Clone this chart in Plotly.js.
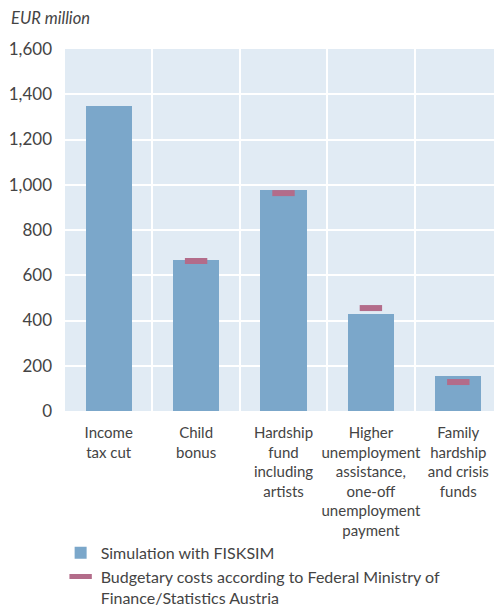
<!DOCTYPE html>
<html><head><meta charset="utf-8">
<script src="https://cdn.plot.ly/plotly-3.0.1.min.js"></script>
<style>html,body{margin:0;padding:0;overflow:hidden;background:#fff}</style>
</head><body><div id="chart"></div>
<script>
const categories = ["Income<br>tax cut", "Child<br>bonus", "Hardship<br>fund<br>including<br>artists", "Higher<br>unemployment<br>assistance,<br>one-off<br>unemployment<br>payment", "Family<br>hardship<br>and crisis<br>funds"];
const fisksim = [1350, 668, 976, 430, 155];
const budget = [null, 663, 963, 455, 128];
const yTicks = [0, 200, 400, 600, 800, 1000, 1200, 1400, 1600];

const idx = categories.map((c, i) => i);
const font = {family: "Lato, 'Open Sans', sans-serif", color: "#444"};

const data = [
  {type: "bar", x: idx, y: fisksim, name: "Simulation with FISKSIM", width: 0.53,
   marker: {color: "#7ba7ca"}, hoverinfo: "skip"},
  {type: "scatter", mode: "markers", x: idx, y: budget,
   name: "Budgetary costs according to Federal Ministry of<br>Finance/Statistics Austria",
   marker: {symbol: "line-ew", size: 16, line: {width: 6, color: "#b36c8a"}, color: "#b36c8a"}, hoverinfo: "skip"},
  {type: "scatter", x: [0], y: [0], xaxis: "x2", showlegend: false, hoverinfo: "skip", mode: "none"}
];

const layout = {
  width: 502, height: 609,
  margin: {l: 65, r: 0, t: 49, b: 198, autoexpand: false},
  paper_bgcolor: "#fff", plot_bgcolor: "#e1ebf4",
  font: font,
  bargap: 0,
  xaxis: {range: [-0.5, 4.5], tickvals: idx, ticktext: categories, showgrid: false, zeroline: false, automargin: false,
          ticks: "", tickfont: {size: 15, family: font.family, color: "#444"}, fixedrange: true, ticklabelstandoff: 11},
  xaxis2: {overlaying: "x", range: [-0.5, 4.5], tickvals: [0.5, 1.5, 2.5, 3.5], showgrid: true, gridcolor: "#fff", gridwidth: 2,
           showticklabels: false, ticks: "", zeroline: false},
  yaxis: {range: [0, 1600], tickvals: yTicks, tickformat: ",d", gridcolor: "#fff", gridwidth: 2, zeroline: false, automargin: false,
          ticks: "", tickfont: {size: 17, family: font.family, color: "#444"}, ticklabelstandoff: 12},
  showlegend: true,
  legend: {x: -0.01, xanchor: "left", y: -0.345, yanchor: "top", font: {size: 16, family: font.family, color: "#444"},
           bgcolor: "rgba(0,0,0,0)", tracegroupgap: 0, itemwidth: 30, valign: "top"},
  annotations: [{text: "<i>EUR million</i>", xref: "paper", yref: "paper", x: -0.128, y: 1.085, xanchor: "left", yanchor: "middle",
                 showarrow: false, font: {size: 16.5, family: font.family, color: "#444"}}]
};
Plotly.newPlot("chart", data, layout, {displayModeBar: false, staticPlot: true});
</script></body></html>
